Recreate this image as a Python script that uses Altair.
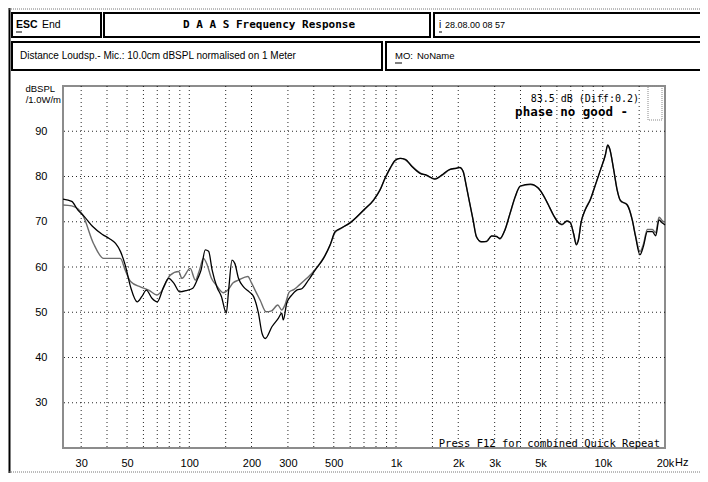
import altair as alt
import pandas as pd

# ---------------- data ----------------
freq_black = [24.5, 27, 29, 31, 34, 38, 41, 44, 46.5, 49, 52, 56, 59, 62, 66, 70, 75, 79.5, 84, 90,
              97, 104, 110, 114, 119.5, 124, 129, 136, 143, 151, 155, 161, 166, 173, 183, 195, 205,
              216, 225, 233, 251, 270, 280, 285, 296, 313, 331, 350, 377, 406, 446, 480, 507, 537,
              598, 697, 780, 837, 884, 935, 991, 1047, 1109, 1193, 1307, 1406, 1541, 1661, 1822,
              1960, 2034, 2111, 2191, 2273, 2358, 2447, 2589, 2739, 2898, 3066, 3181, 3366, 3562,
              3768, 3987, 4464, 4877, 5156, 5456, 5773, 6038, 6341, 6710, 6962, 7226, 7443, 7634,
              7840, 8221, 8696, 9199, 9731, 10294, 10563, 10800, 11300, 11737, 12180, 13123, 13882,
              14409, 15123, 15712, 16427, 17376, 18031, 18711, 19418, 20000]
db_black = [75.0, 74.5, 72.5, 71.2, 69.0, 67.2, 66.3, 65.2, 63.4, 60.4, 55.6, 52.3, 53.5, 54.9, 53.1,
            52.3, 55.5, 57.5, 56.5, 54.5, 54.8, 55.3, 57.5, 59.3, 63.8, 63.5, 59.3, 55.6, 53.5, 49.8,
            54.9, 61.5, 60.8, 57.5, 55.6, 54.5, 53.4, 49.8, 45.3, 44.2, 46.8, 48.7, 49.8, 48.3, 52.0,
            53.8, 54.9, 55.2, 57.1, 59.3, 61.9, 64.9, 67.8, 68.5, 69.7, 72.6, 74.8, 77.0, 79.6, 81.8,
            83.6, 84.0, 83.8, 82.2, 80.7, 80.3, 79.4, 80.3, 81.6, 81.8, 82.0, 81.1, 77.7, 74.1, 70.4,
            66.7, 65.6, 65.6, 66.9, 66.7, 66.3, 68.2, 71.9, 75.5, 77.9, 78.3, 77.4, 75.9, 73.7, 71.5,
            70.0, 69.4, 70.2, 69.8, 67.4, 64.9, 66.0, 69.7, 72.6, 74.8, 78.1, 81.4, 84.8, 87.0, 86.2,
            81.4, 77.0, 74.7, 73.7, 70.4, 66.7, 62.7, 64.5, 67.8, 67.8, 66.9, 70.4, 69.7, 69.3]

freq_gray = [24.5, 27, 29, 30.5, 34.4, 38.5, 42, 46.4, 49, 52, 58, 63.6, 69.8, 73, 80.9, 88.8, 92.2,
             101, 107, 112, 117, 122, 128, 135, 146, 154, 163, 173, 192, 200, 210, 220, 235, 250,
             268, 280, 290, 305, 320, 340, 370, 406, 446, 480, 507, 537, 598, 697, 780, 837, 884,
             935, 991, 1047, 1109, 1193, 1307, 1406, 1541, 1661, 1822, 1960, 2034, 2111, 2191,
             2273, 2358, 2447, 2589, 2739, 2898, 3066, 3181, 3366, 3562, 3768, 3987, 4464, 4877,
             5156, 5456, 5773, 6038, 6341, 6710, 6962, 7226, 7443, 7634, 7840, 8221, 8696, 9199,
             9731, 10294, 10563, 10800, 11300, 11737, 12180, 13123, 13882, 14409, 15123, 15712,
             16427, 17376, 18031, 18711, 19418, 20000]
db_gray = [73.7, 73.5, 72.8, 71.5, 65.2, 61.9, 61.9, 61.9, 59.3, 56.8, 55.6, 54.9, 53.8, 54.5, 58.2,
           59.0, 57.5, 59.7, 57.1, 59.3, 61.9, 60.5, 57.5, 56.0, 54.3, 55.0, 56.5, 57.1, 57.9, 56.5,
           54.5, 52.7, 50.1, 50.3, 51.6, 50.5, 51.6, 54.5, 55.0, 56.0, 57.5, 59.4, 62.0, 64.8, 67.6,
           68.4, 69.8, 72.5, 74.9, 77.1, 79.5, 81.7, 83.5, 84.0, 83.7, 82.3, 80.8, 80.2, 79.5, 80.2,
           81.5, 81.9, 81.9, 81.2, 77.8, 74.0, 70.5, 66.8, 65.5, 65.7, 66.8, 66.8, 66.2, 68.3, 71.8,
           75.4, 77.8, 78.2, 77.5, 75.8, 73.8, 71.4, 70.1, 69.3, 70.1, 69.9, 67.3, 65.2, 66.2, 69.6,
           72.7, 74.9, 78.0, 81.3, 84.7, 86.8, 86.0, 81.5, 77.1, 74.6, 73.8, 70.5, 66.9, 63.4, 65.0,
           68.3, 68.3, 67.6, 71.0, 70.2, 69.8]

tick_freqs = [30, 50, 100, 200, 300, 500, 1000, 2000, 3000, 5000, 10000, 20000]
tick_labels = ["30", "50", "100", "200", "300", "500", "1k", "2k", "3k", "5k", "10k", "20k"]
grid_freqs = [30, 40, 50, 60, 70, 80, 90, 100, 150, 200, 300, 400, 500, 600, 700, 800, 900, 1000,
              1500, 2000, 3000, 4000, 5000, 6000, 7000, 8000, 9000, 10000, 15000]
grid_db = [30, 40, 50, 60, 70, 80, 90]

# ---------------- chart ----------------
W, H = 602, 362
FONT = "Liberation Sans"
MONO = "DejaVu Sans Mono"
xs = alt.Scale(type="log", domain=[24.5, 20000], nice=False)
ys = alt.Scale(domain=[20, 100], nice=False)

label_expr = " : ".join(f"datum.value == {v} ? '{t}'" for v, t in zip(tick_freqs, tick_labels)) + " : ''"

x_axis = alt.Axis(values=tick_freqs, labelExpr=label_expr, grid=False, ticks=False, domain=False,
                  labelPadding=9, labelFont=FONT, labelFontSize=11, labelColor="black",
                  labelFlush=False, labelOverlap=False, title=None)
y_axis = alt.Axis(values=grid_db, grid=False, ticks=False, domain=False, labelPadding=16,
                  labelFont=FONT, labelFontSize=11, labelColor="black", title=None)

one = alt.Data(values=[{"k": 0}])


def box(x, x2, y, y2, color="black", width=2, dash=None):
    kw = dict(fillOpacity=0, stroke=color, strokeWidth=width)
    if dash:
        kw["strokeDash"] = dash
    return alt.Chart(one).mark_rect(**kw).encode(
        x=alt.value(x), x2=alt.value(x2), y=alt.value(y), y2=alt.value(y2))


def rule(x, x2, y, y2, color="black", width=1, dash=None):
    kw = dict(color=color, strokeWidth=width)
    if dash:
        kw["strokeDash"] = dash
    return alt.Chart(one).mark_rule(**kw).encode(
        x=alt.value(x), x2=alt.value(x2), y=alt.value(y), y2=alt.value(y2))


def txt(s, x, y, size=10, bold=False, align="left", font=FONT, color="black"):
    return alt.Chart(one).mark_text(
        text=s, align=align, baseline="middle", fontSize=size,
        fontWeight="bold" if bold else "normal", font=font, color=color
    ).encode(x=alt.value(x), y=alt.value(y))


vgrid = alt.Chart(pd.DataFrame({"f": grid_freqs})).mark_rule(
    color="black", strokeWidth=1, strokeDash=[1, 3], opacity=0.85
).encode(x=alt.X("f:Q", scale=xs, axis=x_axis))

hgrid = alt.Chart(pd.DataFrame({"db": grid_db})).mark_rule(
    color="black", strokeWidth=1, strokeDash=[1, 3], opacity=0.85
).encode(y=alt.Y("db:Q", scale=ys, axis=y_axis))

gray_line = alt.Chart(pd.DataFrame({"f": freq_gray, "db": db_gray})).mark_line(
    color="#6c6c6c", strokeWidth=1.4, interpolate="monotone"
).encode(x=alt.X("f:Q", scale=xs, axis=x_axis), y=alt.Y("db:Q", scale=ys, axis=y_axis))

black_line = alt.Chart(pd.DataFrame({"f": freq_black, "db": db_black})).mark_line(
    color="#000000", strokeWidth=1.3, interpolate="monotone"
).encode(x=alt.X("f:Q", scale=xs, axis=x_axis), y=alt.Y("db:Q", scale=ys, axis=y_axis))

# header / frame decorations (plot origin is at page (63, 86))
deco = [
    rule(-53.5, -53.5, -78, 387, width=2),
    rule(-54, 640, -77, -77, color="#777", dash=[1, 1]),
    rule(-54, 640, 386, 386, color="#777", dash=[1, 1]),
    box(-51, 38, -73, -49),
    box(41, 367, -73, -49),
    box(371, 660, -73, -49),
    box(-51, 319, -44, -16),
    box(323, 660, -44, -16),
    txt("ESC", -47, -61, size=10.5, bold=True),
    rule(-47, -41, -54, -54, width=1),
    txt("End", -21, -61, size=10.5),
    txt("D A A S  Frequency Response", 206, -61, size=11, bold=True, align="center", font=MONO),
    txt("i", 376, -61, size=10),
    rule(376, 379, -54, -54, width=1),
    txt("28.08.00 08 57", 382, -61, size=9),
    txt("Distance Loudsp.- Mic.: 10.0cm dBSPL normalised on 1 Meter", -43, -30, size=10),
    txt("MO:", 332, -30, size=9.5),
    rule(332, 339, -23, -23, width=1),
    txt("NoName", 354, -30, size=9.5),
    txt("dBSPL", -8, 3, size=9.5, align="right"),
    txt("/1.0W/m", -2, 14, size=9.5, align="right"),
    txt("83.5 dB (Diff:0.2)", 576, 13, size=10, font=MONO, align="right"),
    txt("phase no good -", 565, 26, size=12.5, bold=True, font=MONO, align="right"),
    box(585, 599, 0, 34, color="#888", width=1, dash=[1, 1]),
    txt("Press F12 for combined Quick Repeat", 597, 358, size=10.5, font=MONO, align="right"),
    txt("Hz", 612, 377, size=11),
]

chart = alt.layer(vgrid, hgrid, gray_line, black_line, *deco).properties(
    width=W, height=H,
    autosize=alt.AutoSizeParams(type="none"),
    padding={"left": 55, "top": 78, "right": 35, "bottom": 26},
).configure_view(stroke="#8c8c8c", strokeWidth=2)

chart.save("out.html", embed_options={"renderer": "svg", "actions": False})
